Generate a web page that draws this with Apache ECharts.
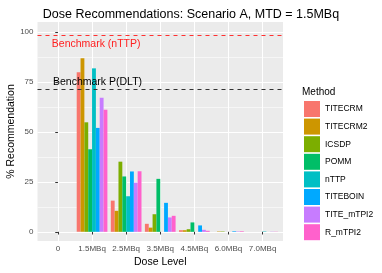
<!DOCTYPE html>
<html>
<head>
<meta charset="utf-8">
<script src="https://cdn.jsdelivr.net/npm/echarts@6/dist/echarts.min.js"></script>
<style>html,body{margin:0;padding:0;background:#fff}#c{width:382px;height:273px}</style>
</head>
<body>
<div id="c"></div>
<script>
var doseLabels = ['0', '1.5MBq', '2.5MBq', '3.5MBq', '4.5MBq', '6.0MBq', '7.0MBq'];
var methods = ['TITECRM', 'TITECRM2', 'ICSDP', 'POMM', 'nTTP', 'TITEBOIN', 'TITE_mTPI2', 'R_mTPI2'];
var colors = ['#F8766D', '#CD9600', '#7CAE00', '#00BE67', '#00BFC4', '#00A9FF', '#C77CFF', '#FF61CC'];
var TITECRM    = [0, 79.8, 15.6, 4.0, 0.8, 0, 0];
var TITECRM2   = [0, 86.8, 10.5, 2.1, 0.8, 0.2, 0];
var ICSDP      = [0, 54.8, 35.1, 8.8, 1.3, 0.2, 0];
var POMM       = [0, 41.3, 27.7, 26.5, 4.7, 0, 0];
var nTTP       = [0, 81.8, 17.8, 0, 0, 0, 0.2];
var TITEBOIN   = [0, 52.0, 30.2, 14.5, 3.2, 0.3, 0];
var TITE_mTPI2 = [0, 67.1, 24.6, 7.2, 1.0, 0.2, 0.1];
var R_mTPI2    = [0, 61.1, 30.3, 8.0, 0.5, 0.3, 0.1];
var seriesValues = [TITECRM, TITECRM2, ICSDP, POMM, nTTP, TITEBOIN, TITE_mTPI2, R_mTPI2];
var yMajor = [0, 25, 50, 75, 100];
var yMinor = [12.5, 37.5, 62.5, 87.5];
var xTicks = [0, 1, 2, 3, 4, 5, 6];
var benchNTTP = 98.3;
var benchDLT = 71.5;

var FONT = '"Liberation Sans", Arial, Helvetica, sans-serif';
var chart = echarts.init(document.getElementById('c'), null, {renderer: 'canvas'});

// panel geometry (ggplot discrete axis: 0.6 expansion each side of 7 categories)
var PL = 37.5, PW = 245.5, PT = 22, PH = 219;
var unit = PW / 7.2;
var barLeft = PL + 0.1 * unit;
var barWidth = 7 * unit;

var series = methods.map(function (m, i) {
  return {
    name: m,
    type: 'bar',
    xAxisIndex: 1,
    yAxisIndex: 2,
    barGap: '0%',
    barCategoryGap: '10%',
    itemStyle: {color: colors[i]},
    data: seriesValues[i],
    z: 3
  };
});

series.push({
  name: 'benchNTTP',
  type: 'line',
  xAxisIndex: 0,
  yAxisIndex: 0,
  data: [],
  markLine: {
    silent: true, symbol: 'none', animation: false,
    label: {show: false},
    lineStyle: {color: '#FF3030', type: [4, 4], width: 1.2},
    data: [{yAxis: benchNTTP}]
  },
  markPoint: {
    silent: true, symbol: 'rect', symbolSize: 0, animation: false,
    data: [{coord: [1.12, 94]}],
    label: {show: true, position: 'inside', formatter: 'Benchmark (nTTP)', color: '#FF2020', fontSize: 10.5, fontFamily: FONT}
  }
});
series.push({
  name: 'benchDLT',
  type: 'line',
  xAxisIndex: 0,
  yAxisIndex: 0,
  data: [],
  markLine: {
    silent: true, symbol: 'none', animation: false,
    label: {show: false},
    lineStyle: {color: '#333333', type: [4, 4], width: 1.2},
    data: [{yAxis: benchDLT}]
  },
  markPoint: {
    silent: true, symbol: 'rect', symbolSize: 0, animation: false,
    data: [{coord: [1.16, 75.0]}],
    label: {show: true, position: 'inside', formatter: 'Benchmark P(DLT)', color: '#000', fontSize: 10.5, fontFamily: FONT}
  }
});

chart.setOption({
  animation: false,
  backgroundColor: '#ffffff',
  title: [
    {text: 'Dose Recommendations: Scenario A, MTD = 1.5MBq', left: 'center', top: 3,
     textStyle: {fontSize: 12.5, fontWeight: 'normal', color: '#000', fontFamily: FONT}},
    {text: 'Method', left: 297, top: 82,
     textStyle: {fontSize: 10, fontWeight: 'normal', color: '#000', fontFamily: FONT}}
  ],
  legend: {
    orient: 'vertical',
    left: 299,
    top: 96,
    itemWidth: 16,
    itemHeight: 16,
    itemGap: 1.6,
    icon: 'rect',
    data: methods,
    textStyle: {fontSize: 8.5, color: '#000', fontFamily: FONT}
  },
  grid: [{
    show: true,
    left: PL, top: PT, width: PW, height: PH,
    containLabel: false,
    outerBoundsMode: 'none',
    backgroundColor: '#EBEBEB',
    borderWidth: 0
  }, {
    show: false,
    containLabel: false,
    outerBoundsMode: 'none',
    left: barLeft, top: PT, width: barWidth, height: PH
  }],
  xAxis: [{
    gridIndex: 0,
    type: 'value',
    min: -0.6,
    max: 6.6,
    name: 'Dose Level',
    nameLocation: 'middle',
    nameGap: 16,
    nameMoveOverlap: false,
    nameTextStyle: {fontSize: 10.5, color: '#000', fontFamily: FONT, verticalAlign: 'top'},
    axisLine: {show: false},
    axisTick: {show: true, length: 2.7, lineStyle: {color: '#333', width: 1}, customValues: xTicks},
    axisLabel: {customValues: xTicks, margin: 4, fontSize: 8, color: '#4D4D4D', fontFamily: FONT,
      formatter: function (v) { return doseLabels[Math.round(v)]; }},
    splitLine: {show: true, lineStyle: {color: '#ffffff', width: 1.1}}
  }, {
    gridIndex: 1,
    type: 'category',
    data: doseLabels,
    show: false
  }],
  yAxis: [{
    gridIndex: 0,
    type: 'value',
    min: -4.6,
    max: 105,
    name: '% Recommendation',
    nameLocation: 'middle',
    nameGap: 21,
    nameMoveOverlap: false,
    nameRotate: 90,
    nameTextStyle: {fontSize: 10.5, color: '#000', fontFamily: FONT},
    axisLine: {show: false},
    axisTick: {show: true, length: 2.7, lineStyle: {color: '#333', width: 1}, customValues: yMajor},
    axisLabel: {customValues: yMajor, margin: 4, fontSize: 8, color: '#4D4D4D', fontFamily: FONT},
    splitLine: {show: true, lineStyle: {color: '#ffffff', width: 1.1}}
  }, {
    gridIndex: 0,
    type: 'value',
    min: -4.6,
    max: 105,
    position: 'left',
    offset: 0,
    axisLine: {show: false},
    axisTick: {show: false, customValues: yMinor},
    axisLabel: {show: false, customValues: yMinor},
    splitLine: {show: true, lineStyle: {color: '#ffffff', width: 0.55}}
  }, {
    gridIndex: 1,
    type: 'value',
    min: -4.6,
    max: 105,
    show: false,
    splitLine: {show: false}
  }],
  series: series
});
</script>
</body>
</html>
